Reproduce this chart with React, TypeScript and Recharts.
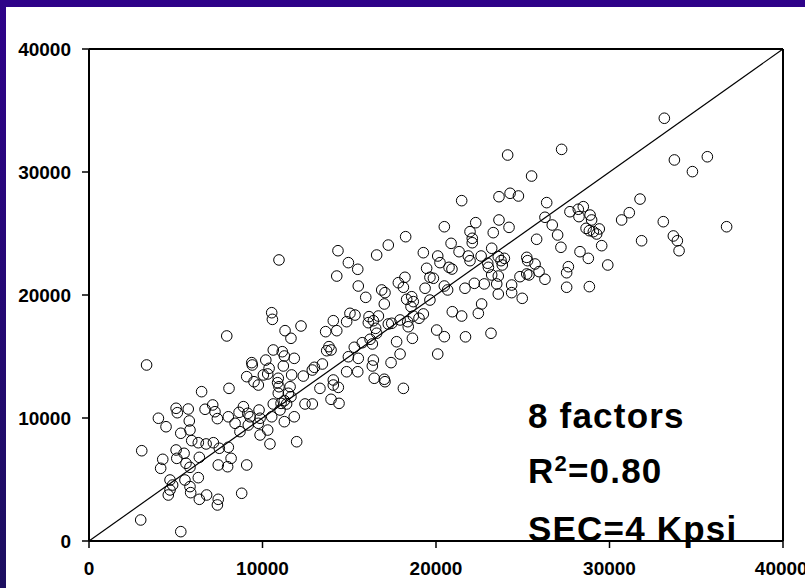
import { ReferenceLine, Scatter, ScatterChart, XAxis, YAxis } from "recharts";

// tick values shared by both axes
const TICKS = [0, 10000, 20000, 30000, 40000];

// [x, y] readings, grouped by x range
const under9k: [number, number][] = [
  [3320, 14310], [6490, 12140], [5020, 10790], [5090, 10430], [5720, 10730],
  [4000, 9980], [4440, 9290], [5780, 9760], [6690, 10710], [7130, 11060],
  [7260, 10510], [7400, 9950], [5290, 8760], [5820, 9020], [5920, 8160],
  [6300, 7990], [6750, 7890], [7170, 7990], [7510, 7540], [3040, 7340],
  [5020, 7400], [5480, 7130], [4250, 6640], [4130, 5910], [5060, 6720],
  [5590, 6320], [5820, 5990], [6360, 6800], [7450, 6180], [4670, 4960],
  [4820, 4550], [4670, 4150], [4570, 3740], [5530, 4960], [6300, 5150],
  [5820, 4420], [5860, 3930], [6360, 3390], [6780, 3740], [7450, 3390],
  [7400, 2930], [2980, 1710], [5290, 760], [8800, 3880],
];

const from8k: [number, number][] = [
  [10950, 22850], [14350, 23600], [14280, 21540], [10530, 18560], [10570, 18020],
  [11300, 17100], [12220, 17480], [11640, 16480], [7940, 16670], [14080, 17910],
  [13640, 17020], [14280, 17100], [13830, 15800], [13950, 15530], [13700, 15470],
  [10620, 15530], [11140, 15390], [11260, 15040], [11830, 14850], [10190, 14710],
  [9380, 14500], [9410, 14310], [11200, 14230], [10380, 14040], [10300, 13580],
  [9090, 13360], [9510, 12950], [9760, 12680], [10050, 13500], [11680, 13500],
  [12350, 13410], [12870, 13900], [12990, 14120], [13450, 14390], [10910, 13230],
  [10870, 12870], [10950, 12540], [11590, 12540], [10910, 12010], [11490, 12010],
  [11640, 11730], [11260, 11410], [11070, 11190], [10620, 11140], [11390, 11140],
  [11010, 10650], [8070, 12410], [13310, 12410], [14080, 12680], [14080, 13090],
  [14370, 12490], [13950, 11520], [14410, 11190], [12450, 11140], [12870, 11140],
  [11830, 10100], [11260, 9700], [8900, 10920], [8650, 10460], [9150, 10380],
  [9280, 10100], [9800, 10650], [9860, 9980], [8030, 10100], [8420, 9570],
  [8700, 8890], [9180, 9430], [9760, 9570], [10300, 9020], [9860, 8620],
  [10530, 10100], [10430, 7890], [11970, 8070], [8030, 7620], [8190, 6720],
  [7990, 6040], [9090, 6180],
];

const from15k: [number, number][] = [
  [21480, 27670], [20480, 25550], [18250, 24740], [17250, 24060], [16580, 23250],
  [14950, 22630], [15490, 22090], [20870, 24200], [21330, 23520], [19270, 23440],
  [20100, 23170], [20230, 22630], [19460, 22170], [20750, 22250], [20920, 22110],
  [19650, 21440], [19850, 21360], [15520, 20730], [18210, 21440], [17830, 21000],
  [18120, 20630], [16870, 20410], [17060, 20190], [19370, 20550], [20480, 20730],
  [20670, 20410], [15950, 19810], [17020, 19270], [18310, 19650], [18600, 19860],
  [18690, 19460], [18560, 19050], [19650, 19590], [15040, 18510], [15330, 18370],
  [14850, 17830], [16140, 18240], [16680, 18290], [16390, 17910], [16100, 17750],
  [17250, 17640], [17930, 17970], [18370, 17830], [18690, 18290], [19270, 18460],
  [19020, 18110], [18400, 17420], [16520, 17290], [16580, 16890], [16200, 16400],
  [16330, 16020], [15750, 16120], [15290, 15750], [14950, 14980], [15520, 14850],
  [16390, 14710], [16330, 14230], [15490, 13760], [14850, 13760], [17410, 14500],
  [17930, 15200], [17730, 16200], [18640, 16480], [20040, 17150], [20480, 16610],
  [20100, 15200], [20940, 18640], [21480, 18290], [17020, 13150], [17060, 12950],
  [16440, 13230], [18120, 12410], [17450, 17700],
];

const from22k: [number, number][] = [
  [24130, 31380], [27240, 31840], [25510, 29670], [23630, 27990], [24270, 28270],
  [24750, 28050], [26380, 27510], [22290, 25880], [23630, 26100], [24210, 25500],
  [23300, 25070], [21960, 25150], [22090, 24610], [22090, 24250], [26280, 26320],
  [26700, 25690], [27010, 24880], [25800, 24530], [27200, 23880], [27720, 26770],
  [28240, 26370], [28200, 26970], [28490, 27180], [23210, 23800], [22600, 23170],
  [21860, 23170], [21960, 22790], [22980, 22580], [23020, 22250], [23590, 23120],
  [23940, 22980], [23750, 22790], [23820, 22440], [25230, 23060], [25280, 22790],
  [25710, 22520], [23210, 21630], [23590, 21540], [25230, 21710], [25360, 21630],
  [24840, 21490], [25940, 21900], [26280, 21280], [22210, 20950], [22780, 20900],
  [23500, 20900], [21670, 20550], [24360, 20810], [24360, 20190], [23590, 20080],
  [24970, 19730], [27630, 22300], [27530, 21810], [28300, 23520], [27530, 20630],
  [22630, 19270], [22440, 18510], [21700, 16600], [23170, 16890],
];

const from28k: [number, number][] = [
  [33160, 34370], [33740, 30980], [34780, 30030], [35640, 31240], [36750, 25550],
  [31760, 27800], [31140, 26690], [30700, 26100], [33100, 25960], [33680, 24800],
  [33910, 24410], [34010, 23600], [31850, 24410], [29900, 22440], [28840, 20680],
  [29550, 24010], [28780, 22980], [28880, 26500], [28970, 26100], [28650, 25420],
  [28840, 25230], [29070, 25150], [29410, 25370], [29260, 24960],
];

const points = [...under9k, ...from8k, ...from15k, ...from22k, ...from28k].map(
  ([x, y]) => ({ x, y })
);

const tickFont = {
  fill: "#000",
  fontSize: 19,
  fontWeight: 700,
  fontFamily: "'Liberation Sans', Arial, sans-serif",
};

const Ring = (p: any) => (
  <circle cx={p.cx} cy={p.cy} r={5.3} fill="none" stroke="#000" strokeWidth={1} />
);

const noteStyle: React.CSSProperties = {
  position: "absolute",
  left: 528,
  fontFamily: "'Liberation Sans', Arial, sans-serif",
  fontWeight: 700,
  fontSize: 35,
  letterSpacing: 1.2,
  lineHeight: 1,
  color: "#000",
  whiteSpace: "nowrap",
};

export default function App() {
  return (
    <div
      style={{
        position: "fixed",
        left: 0,
        top: 0,
        width: 805,
        height: 588,
        background: "linear-gradient(#2e0289, #1c0f60)",
        overflow: "hidden",
      }}
    >
      <div
        style={{
          position: "absolute",
          left: 6,
          top: 7,
          width: 799,
          height: 581,
          background: "#fff",
        }}
      />
      <div style={{ position: "absolute", left: 0, top: 0 }}>
        <ScatterChart
          width={805}
          height={588}
          margin={{ top: 49, right: 22, bottom: 0, left: 0 }}
        >
          <XAxis
            dataKey="x"
            type="number"
            domain={[0, 40000]}
            ticks={TICKS}
            height={47}
            tickSize={7}
            tickMargin={14}
            tick={tickFont}
            axisLine={{ stroke: "#000", strokeWidth: 2 }}
            tickLine={{ stroke: "#000", strokeWidth: 1.5 }}
          />
          <YAxis
            dataKey="y"
            type="number"
            domain={[0, 40000]}
            ticks={TICKS}
            width={89}
            tickSize={7}
            tickMargin={11}
            tick={tickFont}
            axisLine={{ stroke: "#000", strokeWidth: 2 }}
            tickLine={{ stroke: "#000", strokeWidth: 1.5 }}
          />
          <ReferenceLine y={40000} stroke="#000" strokeWidth={2} />
          <ReferenceLine x={40000} stroke="#000" strokeWidth={2} />
          <ReferenceLine
            segment={[
              { x: 0, y: 0 },
              { x: 40000, y: 40000 },
            ]}
            stroke="#000"
            strokeWidth={1.2}
          />
          <Scatter data={points} shape={Ring} isAnimationActive={false} />
        </ScatterChart>
      </div>
      <div style={{ ...noteStyle, top: 398 }}>8 factors</div>
      <div style={{ ...noteStyle, top: 453 }}>
        R<span style={{ fontSize: 22, verticalAlign: 12 }}>2</span>=0.80
      </div>
      <div style={{ ...noteStyle, top: 511 }}>SEC=4 Kpsi</div>
    </div>
  );
}
